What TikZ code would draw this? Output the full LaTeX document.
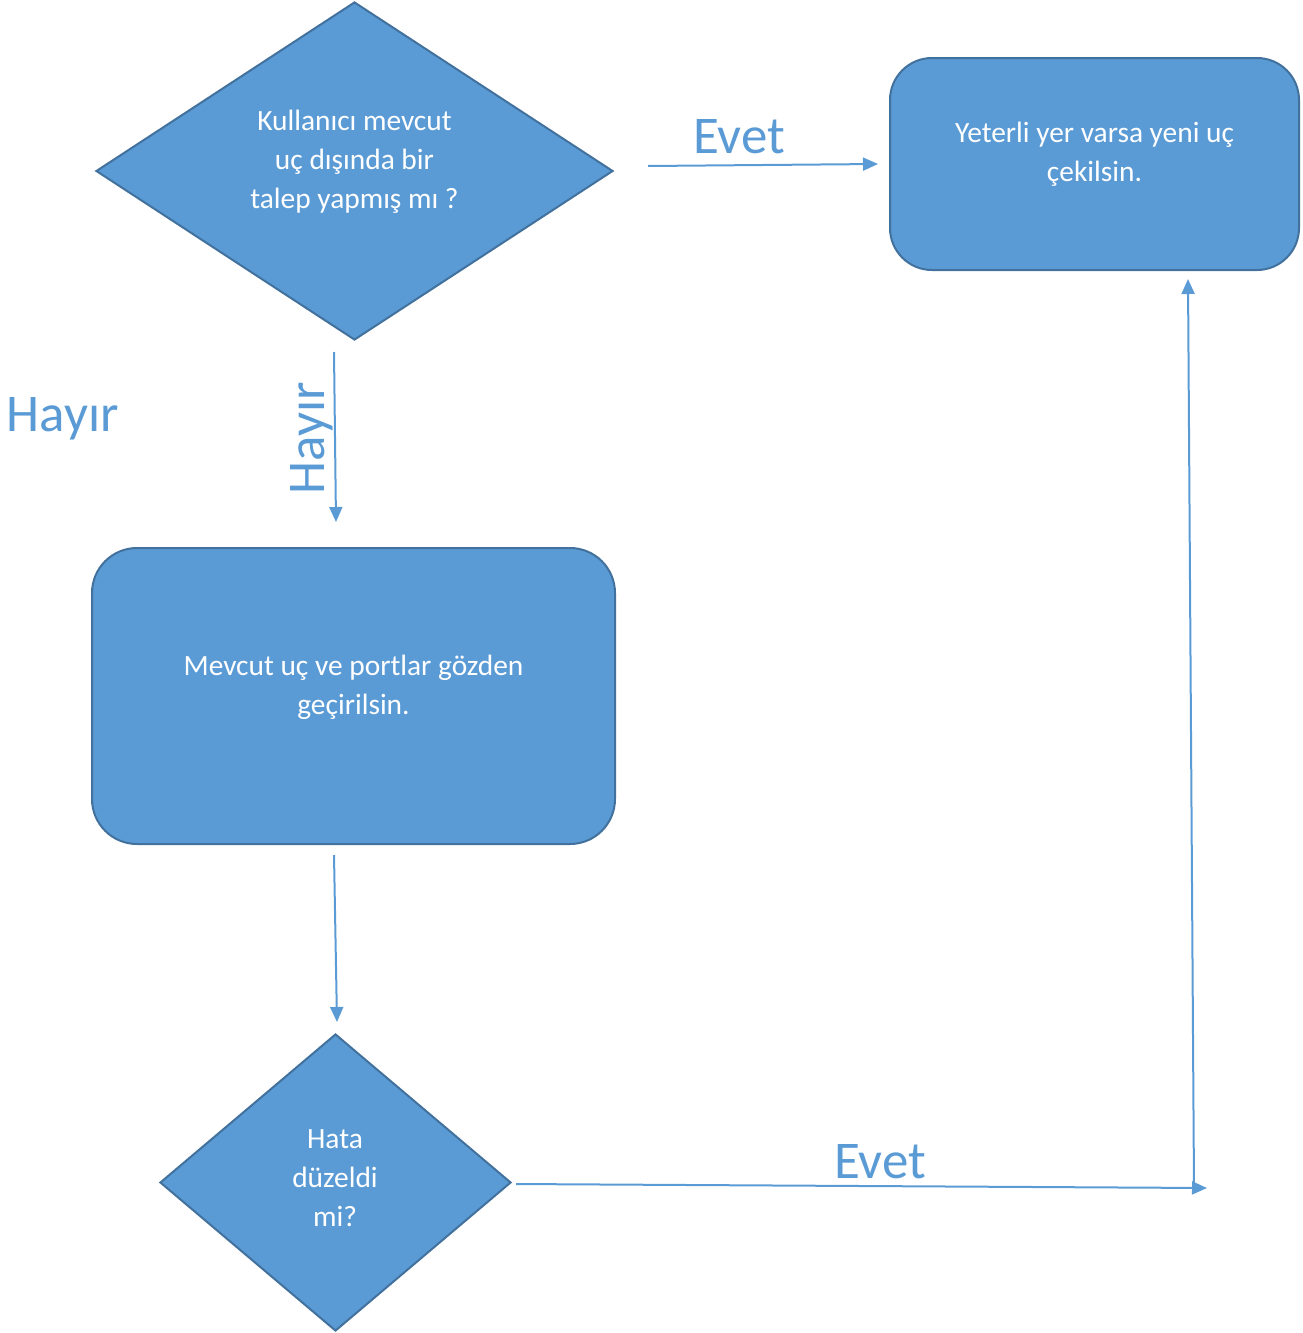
\documentclass[tikz,border=0pt]{standalone}
\usepackage{fontspec}
\setmainfont{Carlito}
\usetikzlibrary{shapes.geometric,arrows.meta}
\definecolor{boxfill}{HTML}{5B9BD5}
\definecolor{boxline}{HTML}{41719C}
\definecolor{lbl}{HTML}{5B9BD5}
\tikzset{
  flowbox/.style={draw=boxline,fill=boxfill,line width=2pt,rounded corners=42pt,inner sep=0pt},
  flowdia/.style={diamond,draw=boxline,fill=boxfill,line width=2pt,inner sep=0pt},
  boxtext/.style={text=white,align=center,font=\fontsize{29.4}{39}\selectfont},
  conn/.style={draw=lbl,line width=2pt,-{Triangle[length=15pt,width=13pt]}},
  biglbl/.style={text=lbl,font=\fontsize{53}{60}\selectfont,inner sep=0pt}
}
\begin{document}
\begin{tikzpicture}[x=1pt,y=-1pt]
\useasboundingbox (0,0) rectangle (1303,1333);
% shapes
\node[flowdia,minimum width=517pt,minimum height=338pt] (d1) at (354.5,171) {};
\node[boxtext] (t1) at (354.5,161.5) {Kullanıcı mevcut\\uç dışında bir\\talep yapmış mı ?};
\node[flowbox,minimum width=409pt,minimum height=212pt] (r1) at (1094.5,164) {};
\node[boxtext] (t2) at (1094.5,154.5) {Yeterli yer varsa yeni uç\\çekilsin.};
\node[flowbox,minimum width=523pt,minimum height=296pt,rounded corners=45pt] (r2) at (353.5,696) {};
\node[boxtext] (t3) at (353.5,687.5) {Mevcut uç ve portlar gözden\\geçirilsin.};
\node[flowdia,minimum width=351pt,minimum height=297pt] (d2) at (335.5,1182.5) {};
\node[boxtext] (t4) at (335,1178) {Hata\\düzeldi\\mi?};
% connector endpoints
\coordinate (a1s) at (648,166);
\coordinate (a1e) at (878,164);
\coordinate (a2s) at (334,352);
\coordinate (a2e) at (336,522);
\coordinate (a3s) at (334,855);
\coordinate (a3e) at (337,1022);
\coordinate (a4s) at (516,1184);
\coordinate (a4e) at (1207,1188);
\coordinate (a5s) at (1194,1188);
\coordinate (a5e) at (1188,279);
% connectors
\draw[conn] (a1s) -- (a1e);
\draw[conn] (a2s) -- (a2e);
\draw[conn] (a3s) -- (a3e);
\draw[conn] (a4s) -- (a4e);
\draw[conn] (a5s) -- (a5e);
% labels
\node[biglbl] (l1) at (739,137) {Evet};
\node[biglbl,rotate=90] (l2) at (312,438) {Hayır};
\node[biglbl] (l3) at (63,419) {Hayır};
\node[biglbl] (l4) at (880,1162) {Evet};
\end{tikzpicture}
\end{document}
